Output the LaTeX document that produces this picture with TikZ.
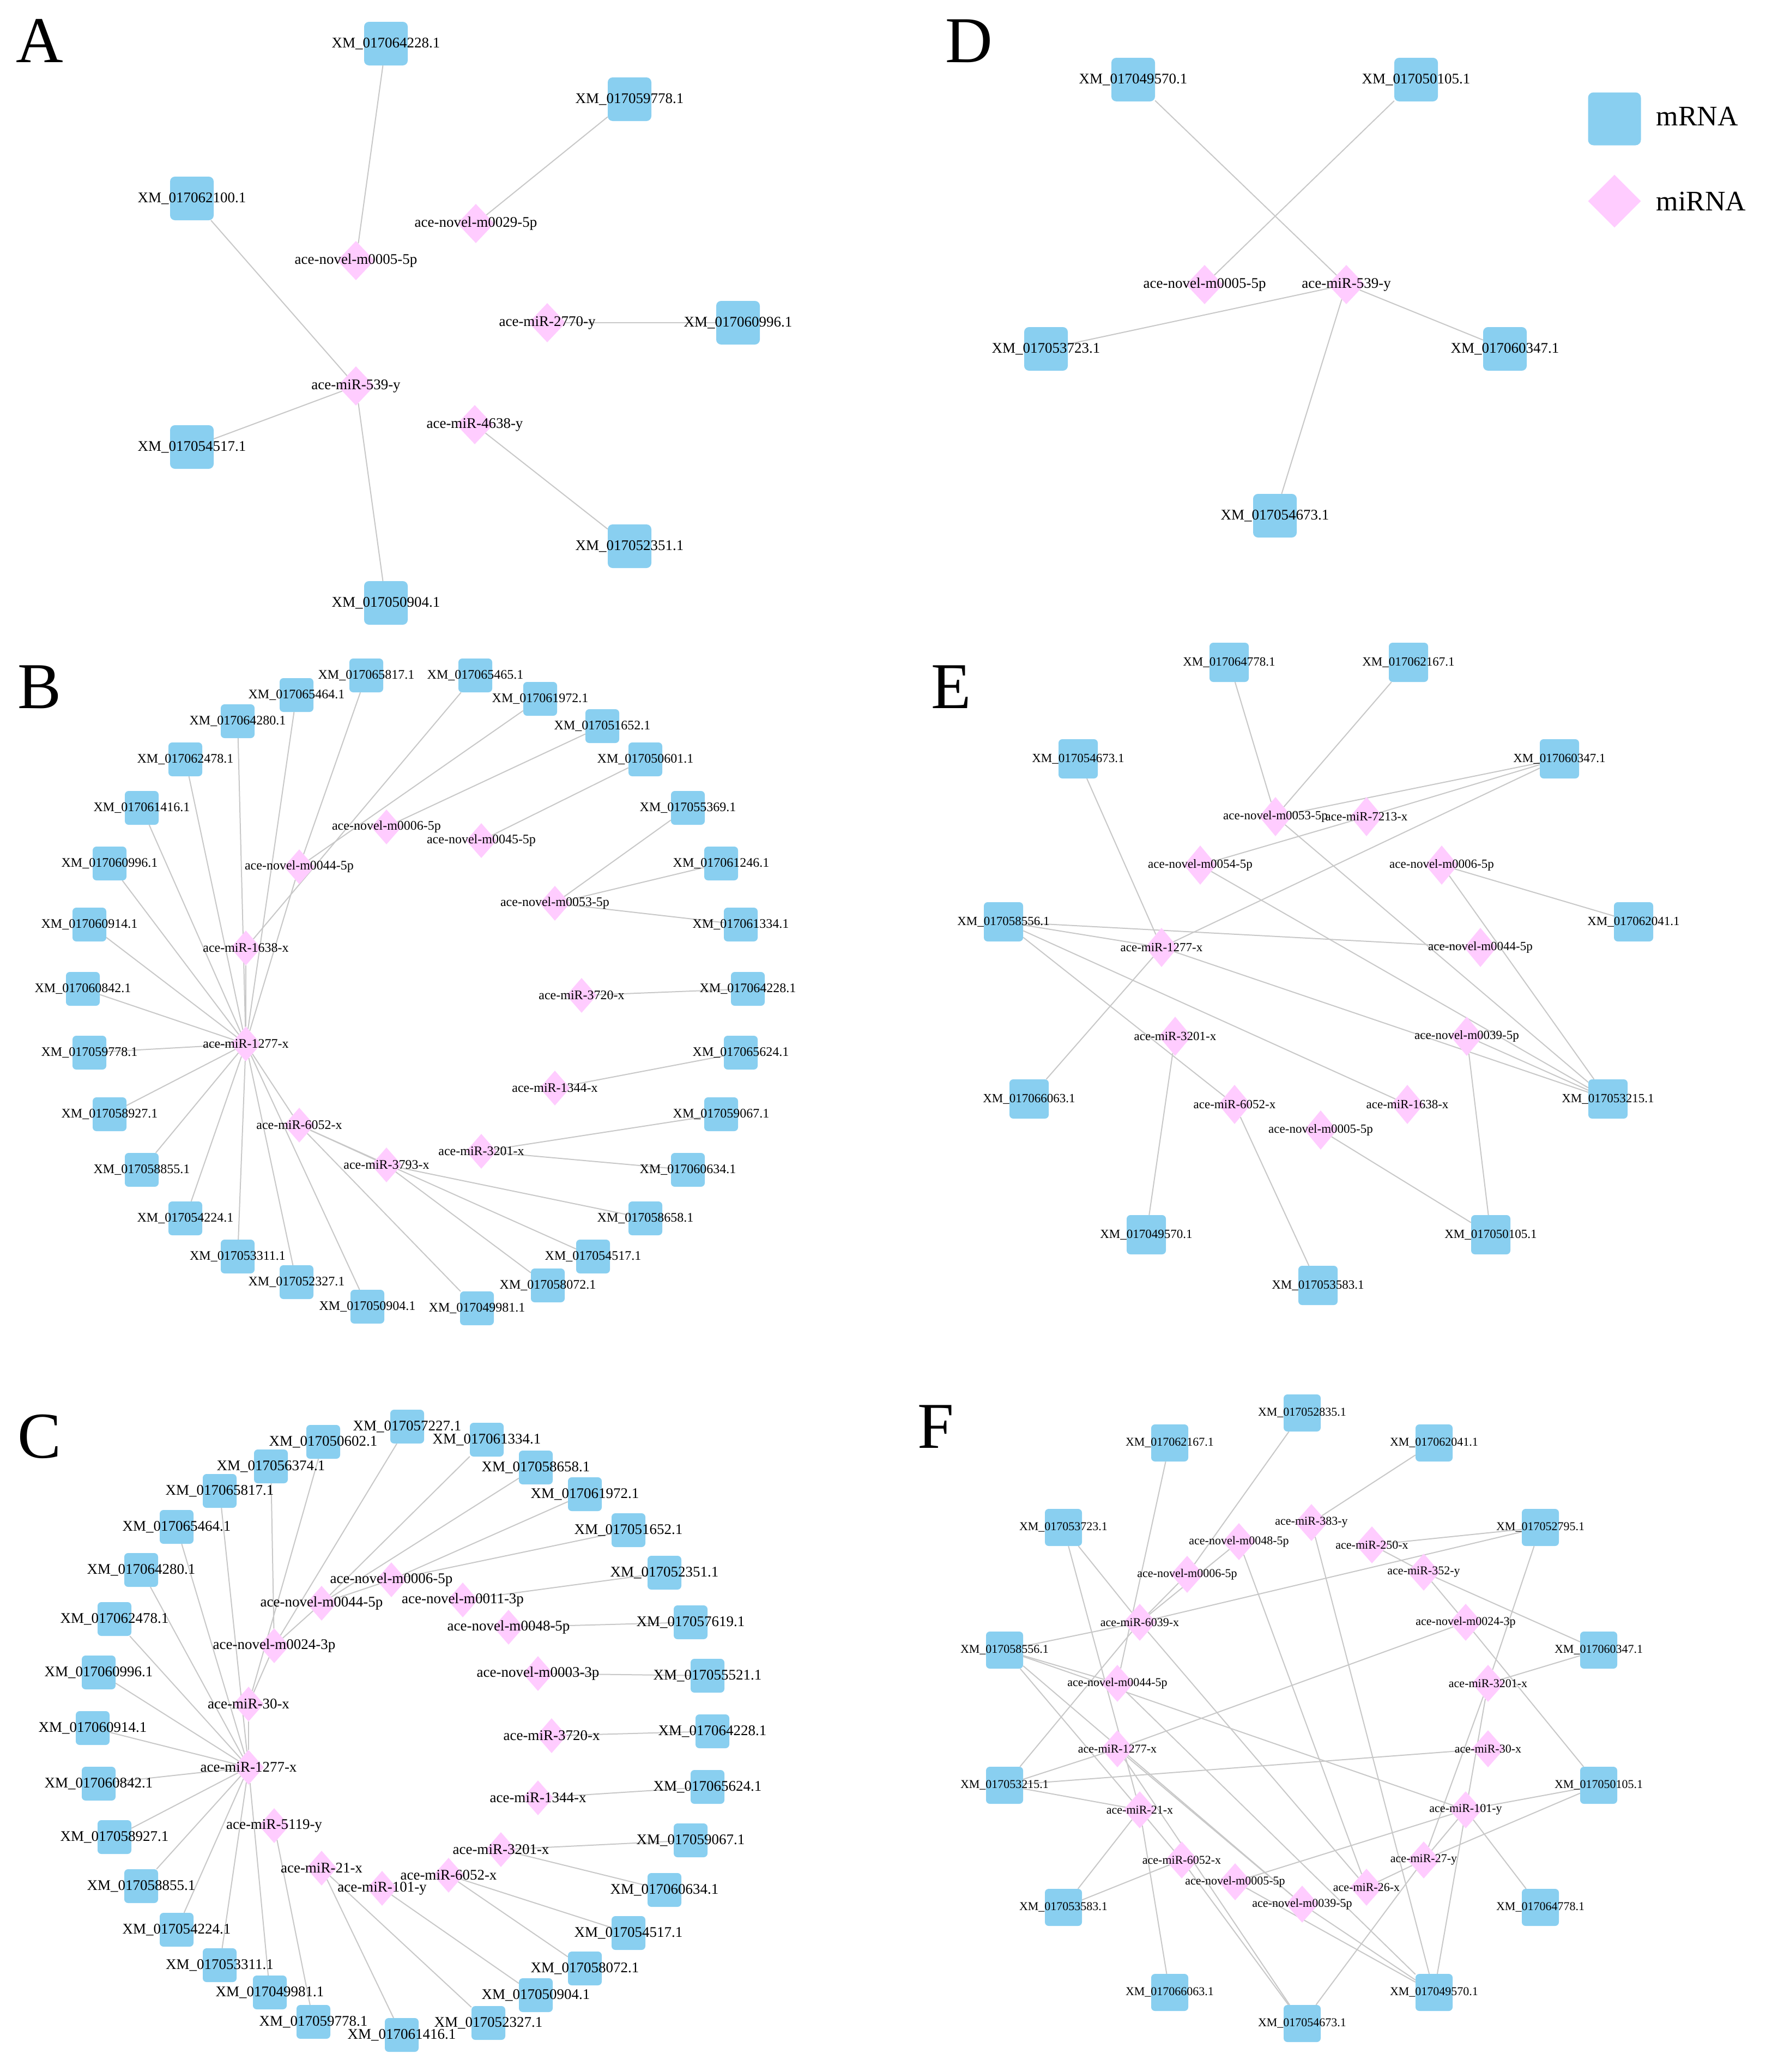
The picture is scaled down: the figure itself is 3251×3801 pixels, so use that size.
\documentclass[tikz,border=0pt]{standalone}
\usepackage{fontspec}
\setmainfont{Liberation Serif}
\usetikzlibrary{shapes.geometric}
\pgfdeclarelayer{bg}
\pgfsetlayers{bg,main}
\definecolor{mblue}{RGB}{137,207,240}
\definecolor{mpink}{RGB}{255,204,255}
\definecolor{egray}{RGB}{200,200,200}
\tikzset{
 mr/.style={rectangle,fill=mblue,rounded corners=7pt,inner sep=0,minimum size=62pt,label={center:#1}},
 mi/.style={diamond,fill=mpink,inner sep=0,minimum width=56pt,minimum height=64pt,label={center:#1}},
 edge/.style={draw=egray,line width=2pt},
 letter/.style={font=\fontsize{120}{130}\selectfont}
}
\begin{document}
\begin{tikzpicture}[x=1pt,y=-1pt]
\begin{pgfonlayer}{bg}
\fill[white] (0,0) rectangle (3251,3801);
\end{pgfonlayer}
\useasboundingbox (0,0) rectangle (3251,3801);
% letters
\node[letter] (LA) at (73,75) {A};
\node[letter] (LD) at (1778,75) {D};
\node[letter] (LB) at (73,1260) {B};
\node[letter] (LE) at (1745,1260) {E};
\node[letter] (LC) at (73,2635) {C};
\node[letter] (LF) at (1717,2617) {F};

% ---------- A ----------
\begin{scope}[every label/.style={font=\fontsize{27}{28}\selectfont},
 mr/.append style={minimum size=80pt,rounded corners=9pt}, mi/.append style={minimum width=68pt,minimum height=72pt}]
\node[mr=XM\_017064228.1] (a1) at (708,80) {};
\node[mr=XM\_017059778.1] (a2) at (1155,182) {};
\node[mr=XM\_017062100.1] (a3) at (352,364) {};
\node[mr=XM\_017060996.1] (a4) at (1354,592) {};
\node[mr=XM\_017054517.1] (a5) at (352,820) {};
\node[mr=XM\_017052351.1] (a6) at (1155,1002) {};
\node[mr=XM\_017050904.1] (a7) at (708,1106) {};
\node[mi=ace-novel-m0005-5p] (ad1) at (653,478) {};
\node[mi=ace-novel-m0029-5p] (ad2) at (873,410) {};
\node[mi=ace-miR-2770-y] (ad3) at (1004,592) {};
\node[mi=ace-miR-539-y] (ad4) at (653,708) {};
\node[mi=ace-miR-4638-y] (ad5) at (871,779) {};
\begin{pgfonlayer}{bg}
\foreach \p/\q in {a1/ad1,a2/ad2,a3/ad4,ad3/a4,ad4/a5,ad4/a7,ad5/a6} \draw[edge] (\p)--(\q);
\end{pgfonlayer}
% ---------- D ----------
\node[mr=XM\_017049570.1] (d1) at (2079,146) {};
\node[mr=XM\_017050105.1] (d2) at (2598,146) {};
\node[mr=XM\_017053723.1] (d3) at (1919,640) {};
\node[mr=XM\_017060347.1] (d4) at (2761,640) {};
\node[mr=XM\_017054673.1] (d5) at (2339,946) {};
\node[mi=ace-novel-m0005-5p] (dd1) at (2210,522) {};
\node[mi=ace-miR-539-y] (dd2) at (2470,522) {};
\begin{pgfonlayer}{bg}
\foreach \p/\q in {d1/dd2,d2/dd1,d3/dd2,dd2/d4,dd2/d5} \draw[edge] (\p)--(\q);
\end{pgfonlayer}
\end{scope}
% legend
\node[rectangle,fill=mblue,rounded corners=10pt,minimum size=97pt] (lg1) at (2962,218) {};
\node[diamond,fill=mpink,minimum size=97pt,inner sep=0] (lg2) at (2962,369) {};
\node[font=\fontsize{52}{56}\selectfont,anchor=west] (lt1) at (3035,213) {mRNA};
\node[font=\fontsize{52}{56}\selectfont,anchor=west] (lt2) at (3035,369) {miRNA};

% ---------- B ----------
\begin{scope}[every label/.style={font=\fontsize{24}{25}\selectfont}]
\node[mr=XM\_017065817.1] (b1) at (672,1239) {};
\node[mr=XM\_017065465.1] (b2) at (872,1239) {};
\node[mr=XM\_017065464.1] (b3) at (544,1275) {};
\node[mr=XM\_017061972.1] (b4) at (991,1282) {};
\node[mr=XM\_017064280.1] (b5) at (436,1323) {};
\node[mr=XM\_017051652.1] (b6) at (1105,1332) {};
\node[mr=XM\_017062478.1] (b7) at (340,1393) {};
\node[mr=XM\_017050601.1] (b8) at (1184,1393) {};
\node[mr=XM\_017061416.1] (b9) at (260,1482) {};
\node[mr=XM\_017055369.1] (b10) at (1262,1482) {};
\node[mr=XM\_017060996.1] (b11) at (201,1584) {};
\node[mr=XM\_017061246.1] (b12) at (1323,1584) {};
\node[mr=XM\_017060914.1] (b13) at (164,1696) {};
\node[mr=XM\_017061334.1] (b14) at (1359,1696) {};
\node[mr=XM\_017060842.1] (b15) at (152,1814) {};
\node[mr=XM\_017064228.1] (b16) at (1372,1814) {};
\node[mr=XM\_017059778.1] (b17) at (164,1931) {};
\node[mr=XM\_017065624.1] (b18) at (1359,1931) {};
\node[mr=XM\_017058927.1] (b19) at (201,2044) {};
\node[mr=XM\_017059067.1] (b20) at (1323,2044) {};
\node[mr=XM\_017058855.1] (b21) at (260,2146) {};
\node[mr=XM\_017060634.1] (b22) at (1262,2146) {};
\node[mr=XM\_017054224.1] (b23) at (340,2235) {};
\node[mr=XM\_017058658.1] (b24) at (1184,2235) {};
\node[mr=XM\_017053311.1] (b25) at (436,2305) {};
\node[mr=XM\_017054517.1] (b26) at (1088,2305) {};
\node[mr=XM\_017052327.1] (b27) at (544,2352) {};
\node[mr=XM\_017058072.1] (b28) at (1005,2358) {};
\node[mr=XM\_017050904.1] (b29) at (674,2397) {};
\node[mr=XM\_017049981.1] (b30) at (875,2400) {};
\node[mi=ace-novel-m0006-5p] (bd1) at (709,1517) {};
\node[mi=ace-novel-m0045-5p] (bd2) at (883,1542) {};
\node[mi=ace-novel-m0044-5p] (bd3) at (549,1590) {};
\node[mi=ace-novel-m0053-5p] (bd4) at (1018,1657) {};
\node[mi=ace-miR-1638-x] (bd5) at (451,1739) {};
\node[mi=ace-miR-3720-x] (bd6) at (1067,1826) {};
\node[mi=ace-miR-1277-x] (bd7) at (451,1915) {};
\node[mi=ace-miR-1344-x] (bd8) at (1018,1996) {};
\node[mi=ace-miR-6052-x] (bd9) at (549,2064) {};
\node[mi=ace-miR-3201-x] (bd10) at (883,2112) {};
\node[mi=ace-miR-3793-x] (bd11) at (709,2137) {};
\begin{pgfonlayer}{bg}
\foreach \p/\q in {b1/bd3,bd3/bd7,b2/bd5,b4/bd3,b6/bd1,b8/bd2,b3/bd7,b5/bd7,b7/bd7,b9/bd7,b11/bd7,b13/bd7,b15/bd7,b17/bd7,b19/bd7,b21/bd7,b23/bd7,b25/bd7,b27/bd7,b29/bd7,bd5/bd7,
 b10/bd4,b12/bd4,b14/bd4,bd6/b16,bd8/b18,bd10/b20,bd10/b22,bd7/bd9,bd9/b30,bd9/b26,bd9/bd11,bd11/b24,bd11/b28}
 \draw[edge] (\p)--(\q);
\end{pgfonlayer}
\end{scope}

% ---------- C ----------
\begin{scope}[every label/.style={font=\fontsize{27}{28}\selectfont}]
\node[mr=XM\_017057227.1] (c1) at (747,2617) {};
\node[mr=XM\_017050602.1] (c2) at (593,2645) {};
\node[mr=XM\_017061334.1] (c3) at (893,2641) {};
\node[mr=XM\_017056374.1] (c4) at (497,2690) {};
\node[mr=XM\_017058658.1] (c5) at (983,2692) {};
\node[mr=XM\_017065817.1] (c6) at (403,2735) {};
\node[mr=XM\_017061972.1] (c7) at (1073,2741) {};
\node[mr=XM\_017065464.1] (c8) at (324,2801) {};
\node[mr=XM\_017051652.1] (c9) at (1153,2807) {};
\node[mr=XM\_017064280.1] (c10) at (259,2880) {};
\node[mr=XM\_017052351.1] (c11) at (1219,2885) {};
\node[mr=XM\_017062478.1] (c12) at (210,2970) {};
\node[mr=XM\_017057619.1] (c13) at (1267,2976) {};
\node[mr=XM\_017060996.1] (c14) at (181,3068) {};
\node[mr=XM\_017055521.1] (c15) at (1298,3074) {};
\node[mr=XM\_017060914.1] (c16) at (170,3170) {};
\node[mr=XM\_017064228.1] (c17) at (1307,3176) {};
\node[mr=XM\_017060842.1] (c18) at (181,3272) {};
\node[mr=XM\_017065624.1] (c19) at (1298,3278) {};
\node[mr=XM\_017058927.1] (c20) at (210,3370) {};
\node[mr=XM\_017059067.1] (c21) at (1267,3376) {};
\node[mr=XM\_017058855.1] (c22) at (259,3460) {};
\node[mr=XM\_017060634.1] (c23) at (1219,3467) {};
\node[mr=XM\_017054224.1] (c24) at (324,3540) {};
\node[mr=XM\_017054517.1] (c25) at (1153,3546) {};
\node[mr=XM\_017053311.1] (c26) at (403,3605) {};
\node[mr=XM\_017058072.1] (c27) at (1073,3611) {};
\node[mr=XM\_017049981.1] (c28) at (495,3655) {};
\node[mr=XM\_017050904.1] (c29) at (983,3660) {};
\node[mr=XM\_017059778.1] (c30) at (575,3709) {};
\node[mr=XM\_017052327.1] (c31) at (896,3711) {};
\node[mr=XM\_017061416.1] (c32) at (737,3733) {};
\node[mi=ace-novel-m0006-5p] (cd1) at (718,2898) {};
\node[mi=ace-novel-m0011-3p] (cd2) at (849,2935) {};
\node[mi=ace-novel-m0044-5p] (cd3) at (590,2941) {};
\node[mi=ace-novel-m0048-5p] (cd4) at (933,2985) {};
\node[mi=ace-novel-m0024-3p] (cd5) at (503,3019) {};
\node[mi=ace-novel-m0003-3p] (cd6) at (987,3070) {};
\node[mi=ace-miR-30-x] (cd7) at (456,3126) {};
\node[mi=ace-miR-3720-x] (cd8) at (1012,3184) {};
\node[mi=ace-miR-1277-x] (cd9) at (456,3242) {};
\node[mi=ace-miR-1344-x] (cd10) at (987,3298) {};
\node[mi=ace-miR-5119-y] (cd11) at (503,3349) {};
\node[mi=ace-miR-3201-x] (cd12) at (919,3393) {};
\node[mi=ace-miR-21-x] (cd13) at (590,3427) {};
\node[mi=ace-miR-6052-x] (cd14) at (823,3440) {};
\node[mi=ace-miR-101-y] (cd15) at (701,3464) {};
\begin{pgfonlayer}{bg}
\foreach \p/\q in {c2/cd7,c4/cd5,c1/cd5,c3/cd3,c5/cd3,c7/cd1,c9/cd1,cd1/cd3,cd3/cd5,cd5/cd7,cd7/cd9,c11/cd2,c13/cd4,c15/cd6,c17/cd8,c19/cd10,
 c6/cd9,c8/cd9,c10/cd9,c12/cd9,c14/cd9,c16/cd9,c18/cd9,c20/cd9,c22/cd9,c24/cd9,c26/cd9,c28/cd9,
 cd11/c30,cd13/c32,cd13/c31,cd15/c29,cd14/c27,cd14/c25,cd12/c21,cd12/c23}
 \draw[edge] (\p)--(\q);
\end{pgfonlayer}
\end{scope}

% ---------- E ----------
\begin{scope}[every label/.style={font=\fontsize{23}{24}\selectfont},
 mr/.append style={minimum width=72pt,minimum height=72pt}, mi/.append style={minimum width=60pt,minimum height=72pt}]
\node[mr=XM\_017064778.1] (e1) at (2255,1215) {};
\node[mr=XM\_017062167.1] (e2) at (2584,1215) {};
\node[mr=XM\_017054673.1] (e3) at (1978,1392) {};
\node[mr=XM\_017060347.1] (e4) at (2861,1392) {};
\node[mr=XM\_017058556.1] (e5) at (1841,1691) {};
\node[mr=XM\_017062041.1] (e6) at (2997,1691) {};
\node[mr=XM\_017066063.1] (e7) at (1888,2016) {};
\node[mr=XM\_017053215.1] (e8) at (2950,2016) {};
\node[mr=XM\_017049570.1] (e9) at (2103,2265) {};
\node[mr=XM\_017050105.1] (e10) at (2735,2265) {};
\node[mr=XM\_017053583.1] (e11) at (2418,2358) {};
\node[mi=ace-novel-m0053-5p] (ed1) at (2340,1498) {};
\node[mi=ace-miR-7213-x] (ed2) at (2507,1498) {};
\node[mi=ace-novel-m0054-5p] (ed3) at (2202,1587) {};
\node[mi=ace-novel-m0006-5p] (ed4) at (2645,1587) {};
\node[mi=ace-miR-1277-x] (ed5) at (2131,1738) {};
\node[mi=ace-novel-m0044-5p] (ed6) at (2716,1738) {};
\node[mi=ace-miR-3201-x] (ed7) at (2156,1901) {};
\node[mi=ace-novel-m0039-5p] (ed8) at (2691,1901) {};
\node[mi=ace-miR-6052-x] (ed9) at (2265,2026) {};
\node[mi=ace-miR-1638-x] (ed10) at (2582,2026) {};
\node[mi=ace-novel-m0005-5p] (ed11) at (2423,2073) {};
\begin{pgfonlayer}{bg}
\foreach \p/\q in {e1/ed1,e2/ed1,e4/ed1,e4/ed2,ed2/ed3,e4/ed5,e3/ed5,e5/ed5,e5/ed6,e5/ed9,e5/ed10,ed5/e7,ed5/e8,ed1/e8,ed3/e8,ed4/e8,ed4/e6,ed8/e8,ed8/e10,ed7/e9,ed9/e11,ed11/e10}
 \draw[edge] (\p)--(\q);
\end{pgfonlayer}
\end{scope}

% ---------- F ----------
\begin{scope}[every label/.style={font=\fontsize{22}{23}\selectfont},
 mr/.append style={minimum width=68pt,minimum height=68pt}, mi/.append style={minimum width=60pt,minimum height=68pt}]
\node[mr=XM\_017052835.1] (f1) at (2389,2592) {};
\node[mr=XM\_017062167.1] (f2) at (2146,2647) {};
\node[mr=XM\_017062041.1] (f3) at (2631,2647) {};
\node[mr=XM\_017053723.1] (f4) at (1951,2802) {};
\node[mr=XM\_017052795.1] (f5) at (2826,2802) {};
\node[mr=XM\_017058556.1] (f6) at (1843,3027) {};
\node[mr=XM\_017060347.1] (f7) at (2933,3027) {};
\node[mr=XM\_017053215.1] (f8) at (1843,3275) {};
\node[mr=XM\_017050105.1] (f9) at (2933,3275) {};
\node[mr=XM\_017053583.1] (f10) at (1951,3499) {};
\node[mr=XM\_017064778.1] (f11) at (2826,3499) {};
\node[mr=XM\_017066063.1] (f12) at (2146,3655) {};
\node[mr=XM\_017049570.1] (f13) at (2631,3655) {};
\node[mr=XM\_017054673.1] (f14) at (2389,3712) {};
\node[mi=ace-miR-383-y] (fd1) at (2406,2793) {};
\node[mi=ace-novel-m0048-5p] (fd2) at (2273,2828) {};
\node[mi=ace-miR-250-x] (fd3) at (2517,2834) {};
\node[mi=ace-miR-352-y] (fd4) at (2612,2884) {};
\node[mi=ace-novel-m0006-5p] (fd5) at (2178,2888) {};
\node[mi=ace-miR-6039-x] (fd6) at (2091,2976) {};
\node[mi=ace-novel-m0024-3p] (fd7) at (2689,2976) {};
\node[mi=ace-novel-m0044-5p] (fd8) at (2050,3088) {};
\node[mi=ace-miR-3201-x] (fd9) at (2730,3088) {};
\node[mi=ace-miR-1277-x] (fd10) at (2050,3208) {};
\node[mi=ace-miR-30-x] (fd11) at (2730,3208) {};
\node[mi=ace-miR-21-x] (fd12) at (2091,3320) {};
\node[mi=ace-miR-101-y] (fd13) at (2689,3320) {};
\node[mi=ace-miR-6052-x] (fd14) at (2168,3412) {};
\node[mi=ace-miR-27-y] (fd15) at (2612,3412) {};
\node[mi=ace-novel-m0005-5p] (fd16) at (2266,3452) {};
\node[mi=ace-miR-26-x] (fd17) at (2507,3462) {};
\node[mi=ace-novel-m0039-5p] (fd18) at (2389,3493) {};
\begin{pgfonlayer}{bg}
\foreach \p/\q in {f1/fd5,f3/fd1,f2/fd8,f4/fd6,f4/fd12,f5/fd3,f5/fd6,f5/fd9,fd6/fd5,fd6/fd2,fd6/f6,fd6/f8,fd6/fd17,fd1/f13,fd2/fd17,fd3/fd4,fd4/f7,fd4/fd7,fd7/fd10,fd7/f9,fd9/f7,fd9/fd15,fd9/f13,fd11/f8,f6/fd8,f6/fd12,f6/fd13,f6/fd18,fd8/f13,fd10/f8,fd10/fd18,fd10/f14,fd12/f8,fd12/f12,fd12/fd14,fd12/f10,fd14/f14,fd14/f10,fd16/fd13,fd16/f13,fd18/f13,fd17/fd15,fd15/f14,fd13/f11,fd13/fd15,fd15/f9,fd13/f9}
 \draw[edge] (\p)--(\q);
\end{pgfonlayer}
\end{scope}
\end{tikzpicture}
\end{document}
